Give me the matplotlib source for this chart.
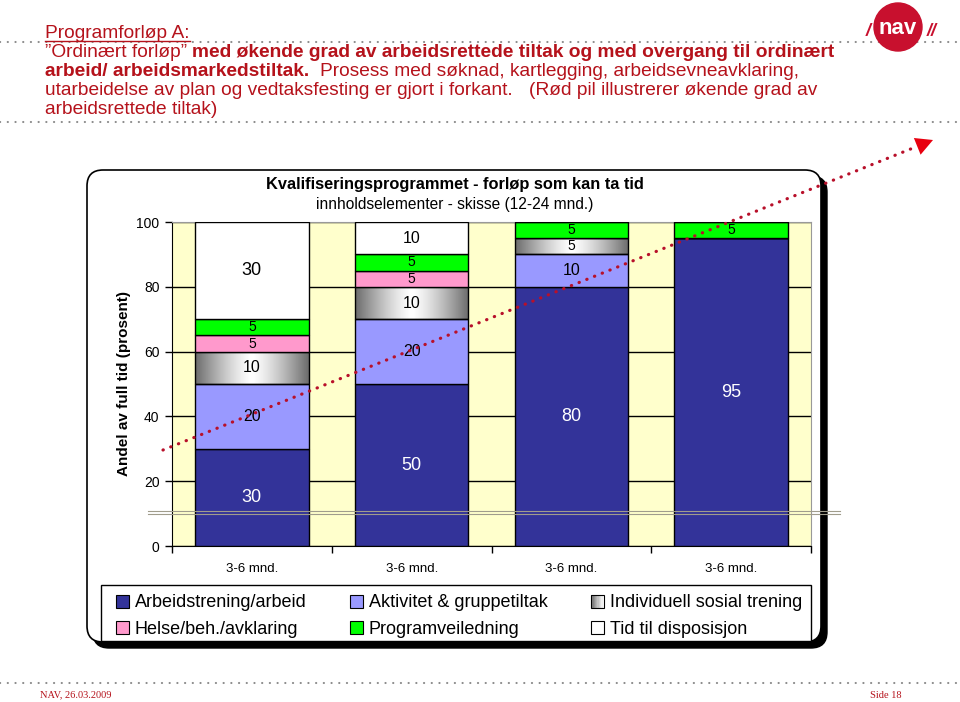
import numpy as np
import matplotlib.pyplot as plt
from matplotlib.patches import FancyBboxPatch, Rectangle, Circle, Polygon, Patch

plt.rcParams['font.family'] = ['Liberation Sans', 'DejaVu Sans']

# data (share of full time, percent)
categories = ['3-6 mnd.', '3-6 mnd.', '3-6 mnd.', '3-6 mnd.']
series = ['Arbeidstrening/arbeid', 'Aktivitet & gruppetiltak', 'Individuell sosial trening',
          'Helse/beh./avklaring', 'Programveiledning', 'Tid til disposisjon']
arbeid = [30, 50, 80, 95]
aktivitet = [20, 20, 10, 0]
sosial = [10, 10, 5, 0]
helse = [5, 5, 0, 0]
veiledning = [5, 5, 5, 5]
disposisjon = [30, 10, 0, 0]
colors = ['#333399', '#9999FF', 'gradient', '#FF99CC', '#00FF00', '#FFFFFF']
yticks = [0, 20, 40, 60, 80, 100]

red = '#B5121B'
W, H = 960, 702
fig = plt.figure(figsize=(9.6, 7.02), dpi=100)

# background layer in pixel coordinates
bg = fig.add_axes([0, 0, 1, 1], zorder=0)
bg.set_xlim(0, W)
bg.set_ylim(H, 0)
bg.axis('off')

# dotted rules
for yy in [42, 122, 683]:
    bg.plot([0, W], [yy, yy], color='#8a8a8a', lw=1.5, ls=(0, (0.1, 3.6)),
            solid_capstyle='round', dash_capstyle='round')

# heading text, pieces of normal and bold
r = fig.canvas.get_renderer()
fs = 13.8


def width_of(s, weight):
    t = bg.text(0, 0, s, fontsize=fs, fontweight=weight)
    w = t.get_window_extent(r).width
    t.remove()
    return w


def put_line(x, y, parts):
    for txt, weight in parts:
        lead = len(txt) - len(txt.lstrip(' '))
        if lead:
            x += lead * (width_of('x x', weight) - width_of('xx', weight))
        t = bg.text(x, y, txt.strip(' '), fontsize=fs, fontweight=weight,
                    color=red, va='baseline', ha='left')
        x += t.get_window_extent(r).width
    return x


xe = put_line(45, 38, [('Programforløp A:', 'normal')])
bg.plot([45, xe], [40.5, 40.5], color=red, lw=1)
put_line(45, 57, [('”Ordinært forløp”', 'normal'),
                  (' med økende grad av arbeidsrettede tiltak og med overgang til ordinært', 'bold')])
put_line(45, 76, [('arbeid/ arbeidsmarkedstiltak.', 'bold'),
                  ('  Prosess med søknad, kartlegging, arbeidsevneavklaring,', 'normal')])
put_line(45, 95, [('utarbeidelse av plan og vedtaksfesting er gjort i forkant.', 'normal'),
                  ('   (Rød pil illustrerer økende grad av', 'normal')])
put_line(45, 114, [('arbeidsrettede tiltak)', 'normal')])

# NAV logo
bg.add_patch(Circle((898, 27), 24, color='#C8102E', zorder=3))
bg.text(898, 29, 'nav', color='white', fontsize=16, fontweight='heavy',
        ha='center', va='center', zorder=4)
bg.text(868, 32, '/', color='#C8102E', fontsize=13, fontweight='bold', style='italic',
        ha='center', va='center', zorder=4)
bg.text(932, 32, '//', color='#C8102E', fontsize=13, fontweight='bold', style='italic',
        ha='center', va='center', zorder=4)

# footer
bg.text(40, 695, 'NAV, 26.03.2009', family='Liberation Serif', fontsize=7.5,
        color=red, va='center')
bg.text(870, 695, 'Side 18', family='Liberation Serif', fontsize=7.5,
        color=red, va='center')

# chart frame with shadow
bg.add_patch(FancyBboxPatch((93, 176), 734, 472, boxstyle='round,pad=0,rounding_size=16',
                            fc='black', ec='black', lw=1))
bg.add_patch(FancyBboxPatch((87, 170), 734, 472, boxstyle='round,pad=0,rounding_size=16',
                            fc='white', ec='black', lw=1.2))
bg.text(455, 184, 'Kvalifiseringsprogrammet - forløp som kan ta tid', fontsize=11.8,
        fontweight='bold', ha='center', va='center')
bg.text(455, 205, 'innholdselementer - skisse (12-24 mnd.)', fontsize=11.2,
        ha='center', va='center')
# legend frame
bg.add_patch(Rectangle((101, 585), 710, 56, fc='white', ec='black', lw=1))

# chart
ax = fig.add_axes([172 / W, 1 - 546 / H, (811 - 172) / W, (546 - 222) / H], zorder=1)
ax.set_facecolor('#FFFFCC')
x = np.arange(len(categories))
bw = 0.71
t = np.linspace(0, 1, 200)
grad_img = (1 - 0.58 * np.abs(2 * t - 1) ** 1.3)[None, :]

stack = [arbeid, aktivitet, sosial, helse, veiledning, disposisjon]
bottom = np.zeros(len(categories))
for k, vals in enumerate(stack):
    vals = np.array(vals, dtype=float)
    if colors[k] == 'gradient':
        bars = ax.bar(x, vals, bw, bottom=bottom, color='none', edgecolor='black',
                      lw=1, zorder=3)
        for b in bars:
            if b.get_height() == 0:
                continue
            im = ax.imshow(grad_img, cmap='gray', vmin=0, vmax=1, aspect='auto',
                           interpolation='bilinear', zorder=2.5,
                           extent=[b.get_x(), b.get_x() + b.get_width(),
                                   b.get_y(), b.get_y() + b.get_height()])
            im.set_clip_path(b)
    else:
        ax.bar(x, vals, bw, bottom=bottom, color=colors[k], edgecolor='black',
               lw=1, zorder=3)
    for i, v in enumerate(vals):
        if v == 0:
            continue
        size = 13 if v >= 30 else (11.5 if v >= 10 else 10)
        ax.text(x[i], bottom[i] + v / 2, '%d' % v, ha='center', va='center',
                fontsize=size, color='white' if k == 0 else 'black', zorder=4)
    bottom += vals

ax.set_xlim(-0.5, len(categories) - 0.5)
ax.set_ylim(0, 100)
ax.set_yticks(yticks)
ax.tick_params(axis='y', direction='out', length=5, width=1, labelsize=10, pad=4)
ax.set_xticks(x)
ax.set_xticklabels(categories)
ax.tick_params(axis='x', which='major', length=0, labelsize=9.5, pad=12)
ax.set_xticks(np.arange(len(categories) + 1) - 0.5, minor=True)
ax.tick_params(axis='x', which='minor', direction='out', length=5, width=1)
ax.set_axisbelow(True)
ax.yaxis.grid(True, color='black', lw=1)
ax.spines['top'].set_color('#999999')
ax.spines['right'].set_color('#999999')
ax.set_ylabel('Andel av full tid (prosent)', fontsize=11, fontweight='bold')
ax.yaxis.set_label_coords((131 - 172) / 639, 0.5)


class GradientHandler:
    def legend_artist(self, legend, orig_handle, fontsize, handlebox):
        x0, y0 = handlebox.xdescent, handlebox.ydescent
        w, h = handlebox.width, handlebox.height
        n = 10
        for i in range(n):
            g = 0.45 + 0.55 * i / (n - 1)
            handlebox.add_artist(Rectangle((-x0 + w * i / n, -y0), w / n + 0.2, h,
                                           fc=str(g), ec='none',
                                           transform=handlebox.get_transform()))
        frame = Rectangle((-x0, -y0), w, h, fc='none', ec='black', lw=0.8,
                          transform=handlebox.get_transform())
        handlebox.add_artist(frame)
        return frame


handles = {}
for k, name in enumerate(series):
    fc = '#AAAAAA' if colors[k] == 'gradient' else colors[k]
    handles[name] = Patch(facecolor=fc, edgecolor='black', lw=0.8, label=name)
order = [0, 3, 1, 4, 2, 5]
leg = ax.legend([handles[series[i]] for i in order], [series[i] for i in order],
                loc='center', bbox_to_anchor=(111 / W, 1 - 644 / H, 696 / W, 56 / H),
                bbox_transform=fig.transFigure, mode='expand', ncol=3, fontsize=13,
                frameon=False, handlelength=0.72, handleheight=0.72,
                handletextpad=0.35, borderpad=0.25, labelspacing=0.5,
                borderaxespad=0,
                handler_map={handles[series[2]]: GradientHandler()})

# foreground: red dotted arrow and the thin grey double rule
fg = fig.add_axes([0, 0, 1, 1], zorder=2)
fg.set_xlim(0, W)
fg.set_ylim(H, 0)
fg.axis('off')
for yy in [511, 514]:
    fg.plot([148, 840], [yy, yy], color='#A09C8C', lw=0.8)
start = np.array([163.0, 450.0])
tip = np.array([933.0, 140.0])
d = (tip - start) / np.hypot(*(tip - start))
nrm = np.array([-d[1], d[0]])
base = tip - 17 * d
fg.plot([start[0], base[0]], [start[1], base[1]], color='#B8102A', lw=2.3,
        ls=(0, (0.1, 2.5)), dash_capstyle='round')
fg.add_patch(Polygon([tip, base + 9 * nrm, base - 9 * nrm], closed=True,
                     fc='#E8000F', ec='none'))

fig.savefig('out.png', dpi=100)
